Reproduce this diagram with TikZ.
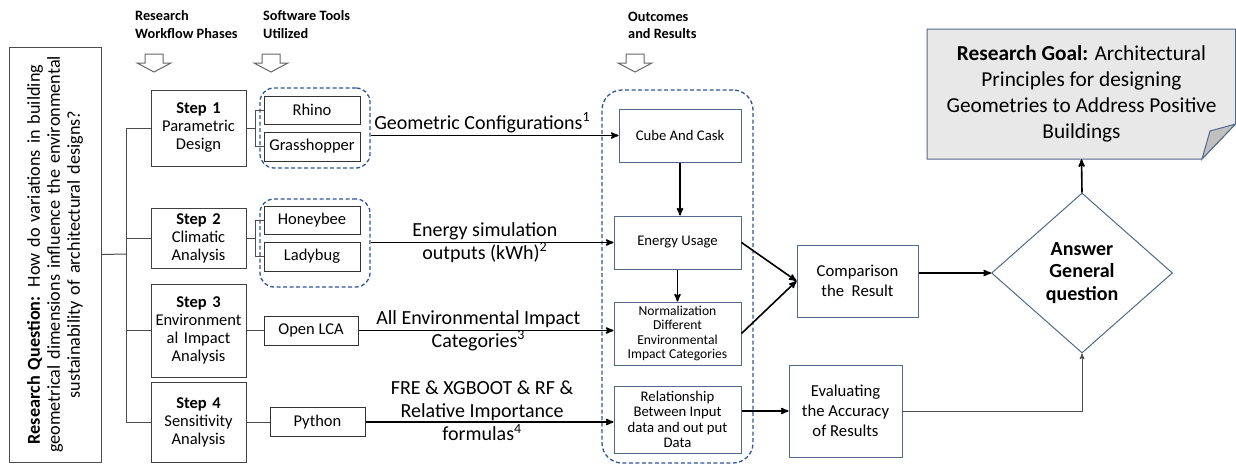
\documentclass[tikz,border=0pt]{standalone}
\usepackage{fontspec}
\setmainfont{Carlito}
\usetikzlibrary{arrows,positioning,shapes.geometric}
\definecolor{dashblue}{RGB}{47,85,151}
\definecolor{slate}{RGB}{84,104,140}
\definecolor{goalgray}{RGB}{232,232,232}
\definecolor{foldgray}{RGB}{192,192,192}
\tikzset{
    %Define standard arrow tip
    >=stealth',
    %Define style for the phase boxes
    phase/.style={
           rectangle,
           draw=black!75, line width=1pt,
           text width=93pt,
           minimum width=95pt,
           inner sep=0pt,
           align=center,
           font=\fontsize{16.5}{18}\selectfont},
    % Define style for the tool boxes
    tool/.style={
           rectangle,
           draw=black!80, line width=1pt,
           minimum width=96pt,
           minimum height=29pt,
           inner sep=0pt,
           font=\fontsize{16.5}{18}\selectfont},
    % Define style for the outcome boxes
    outbox/.style={
           rectangle,
           draw=slate, line width=1pt,
           inner sep=0pt,
           align=center,
           font=\fontsize{14.7}{15.5}\selectfont},
    % Dashed groups
    group/.style={
           draw=dashblue, line width=1.3pt,
           dash pattern=on 4pt off 2.5pt,
           rounded corners=14pt},
    % Column headings
    head/.style={
           anchor=west,
           align=left,
           inner sep=0pt,
           font=\bfseries\fontsize{14.3}{17.5}\selectfont},
    % Arrow labels
    lbl/.style={
           align=center,
           inner sep=2pt,
           font=\fontsize{20}{23}\selectfont},
    % Define arrow style
    pil/.style={
           ->,
           line width=1.6pt},
    tree/.style={
           draw=black!70,
           line width=1pt},
    hollow/.style={
           draw=black!60,
           line width=1pt,
           fill=white}
}

\begin{document}
\begin{tikzpicture}[x=1pt,y=-1pt]
\useasboundingbox (0,0) rectangle (1236,466);

% headings
\node[head] (hphase) at (135,24.5) {Research\\Workflow Phases};
\node[head] (htool) at (263,24.5) {Software Tools\\Utilized};
\node[head] (hout) at (628,25.5) {Outcomes\\and Results};
\foreach \hx in {154,271,635}
  \draw[hollow] ({\hx-9},54) -- ({\hx+9},54) -- ({\hx+9},63) -- ({\hx+17},63)
    -- (\hx,72) -- ({\hx-17},63) -- ({\hx-9},63) -- cycle;

% research question
\node[rotate=90, draw=black!70, line width=1pt, minimum width=415pt, minimum height=92pt,
  text width=412pt, inner sep=0pt, align=center, font=\fontsize{18.2}{20}\selectfont]
  (rq) at (55,254.5)
  {\textbf{Research Question:} How do variations in building\\geometrical dimensions influence the environmental\\sustainability of architectural designs?};

% phases
\node[phase, minimum height=76pt] (s1) at (198.5,128) {\textbf{Step 1}\\Parametric\\Design};
\node[phase, minimum height=60pt] (s2) at (198.5,238) {\textbf{Step 2}\\Climatic\\Analysis};
\node[phase, minimum height=93pt] (s3) at (198.5,330.5) {\textbf{Step 3}\\Environment\\al Impact\\Analysis};
\node[phase, minimum height=80pt] (s4) at (198.5,422) {\textbf{Step 4}\\Sensitivity\\Analysis};

\coordinate (trunk) at (126,254);
\draw[tree] (rq.south) -- (trunk);
\foreach \s in {s1,s2,s3,s4}
  \draw[tree] (trunk) |- (\s.west);

% tools
\node[tool, minimum height=28pt] (rhino) at (312,110) {Rhino};
\node[tool, below=7pt of rhino] (grass) {Grasshopper};
\node[tool, minimum height=28pt] (honey) at (312,220) {Honeybee};
\node[tool, below=7pt of honey] (lady) {Ladybug};
\node[tool, minimum width=94pt] (lca) at (311,330.5) {Open LCA};
\node[tool, minimum width=95pt] (py) at (317.5,422) {Python};

\node[group, minimum width=110pt, minimum height=80pt] (g1) at (315,128) {};
\node[group, minimum width=110pt, minimum height=88pt] (g2) at (315,243) {};

\draw[tree] (s1.east) -- ++(9,0) coordinate (b1) (b1) |- (rhino.west) (b1) |- (grass.west);
\draw[tree] (s2.east) -- ++(9,0) coordinate (b2) (b2) |- (honey.west) (b2) |- (lady.west);
\draw[tree] (s3.east) -- (lca.west);
\draw[tree] (s4.east) -- (py.west);

% outcomes
\node[group, rounded corners=20pt, minimum width=151pt, minimum height=373pt] (og) at (677.5,276.5) {};
\node[outbox, minimum width=122pt, minimum height=53pt] (cube) at (680,135.5) {Cube And Cask};
\node[outbox, minimum width=127pt, minimum height=53pt] (energy) at (677.5,242.5) {Energy Usage};
\node[outbox, minimum width=127pt, minimum height=63pt, font=\fontsize{13.6}{14.2}\selectfont] (norm) at (677.5,333.5)
  {Normalization\\Different\\Environmental\\Impact Categories};
\node[outbox, minimum width=127pt, minimum height=67pt] (rel) at (677.5,419.5)
  {Relationship\\Between Input\\data and out put\\Data};

\draw[pil] (g1.east |- cube.west) -- node[lbl, above, pos=.45] {Geometric Configurations\textsuperscript{1}} (cube.west);
\draw[pil] (g2.east |- energy.west) -- node[lbl, pos=.47] {Energy simulation\\outputs (kWh)\textsuperscript{2}} (energy.west);
\draw[pil] (lca.east) -- node[lbl, pos=.47] {All Environmental Impact\\Categories\textsuperscript{3}} (lca.east -| norm.west);
\draw[pil] (py.east) -- node[lbl, pos=.47, yshift=11pt] {FRE \& XGBOOT \& RF \&\\Relative Importance\\formulas\textsuperscript{4}} (py.east -| rel.west);

\draw[pil] (cube.south) -- (cube.south |- energy.north);
\draw[pil] (energy.south) -- (norm.north);

% results
\node[outbox, minimum width=121pt, minimum height=72pt, font=\fontsize{16.7}{19.5}\selectfont] (comp) at (857.5,281)
  {Comparison\\the~~Result};
\node[outbox, minimum width=113pt, minimum height=92pt, font=\fontsize{16.7}{20}\selectfont] (eval) at (845.5,411)
  {Evaluating\\the Accuracy\\of Results};
\node[diamond, draw=slate, line width=1pt, aspect=1.13, minimum width=181pt, minimum height=160pt,
  inner sep=0pt, align=center, font=\bfseries\fontsize{20}{22.5}\selectfont] (ans) at (1082,273)
  {Answer\\General\\question};

\draw[pil] (energy.east) -- (comp.west);
\draw[pil] (norm.east) -- (comp.west);
\draw[pil] (comp.east |- ans.west) -- (ans.west);
\draw[pil] (eval.west -| rel.east) -- (eval.west);
\draw[->, line width=1pt, black!70] (eval.east) -| (ans.south);

% goal
\filldraw[draw=slate, fill=goalgray, line width=1pt]
  (927,29) -- (1235.5,29) -- (1235.5,124) -- (1202,159) -- (927,159) -- cycle;
\filldraw[draw=slate, fill=foldgray, line width=1pt]
  (1235.5,124) -- (1210,131) -- (1202,159) -- cycle;
\node[minimum width=309pt, minimum height=130pt, inner sep=0pt, align=center,
  font=\fontsize{21.3}{26}\selectfont] (goal) at (1081.5,94)
  {\textbf{Research Goal:} Architectural\\Principles for designing\\Geometries to Address Positive\\Buildings};
\draw[pil] (ans.north) -- (goal.south);
\end{tikzpicture}
\end{document}
